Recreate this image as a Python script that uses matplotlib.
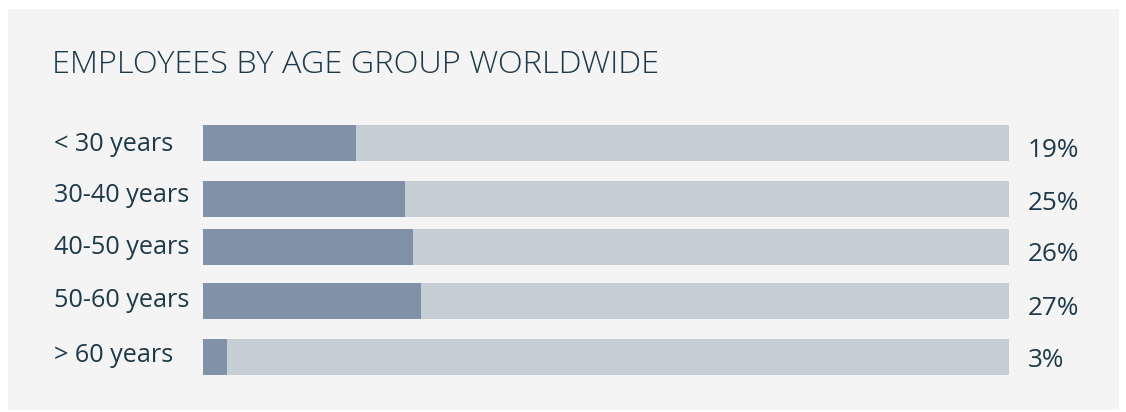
import matplotlib
matplotlib.use("Agg")
import matplotlib.pyplot as plt
from matplotlib.patches import Rectangle

categories = ["< 30 years", "30-40 years", "40-50 years", "50-60 years", "> 60 years"]
values = [19, 25, 26, 27, 3]
value_labels = ["19%", "25%", "26%", "27%", "3%"]
title = "EMPLOYEES BY AGE GROUP WORLDWIDE"

W, H = 1126, 412
bar_centers = [143, 199, 247, 301, 357]   # pixel layout
bar_h = 36
label_base = [151, 202, 254, 307, 362]
pct_base = [157, 210, 261, 315, 367]

FILL = "#8091a8"
TRACK = "#c5cdd5"
PANEL = "#f4f4f4"
TEXT = "#1e3a4a"

plt.rcParams['font.family'] = ['Open Sans', 'DejaVu Sans']

fig = plt.figure(figsize=(W / 100, H / 100), dpi=100)
fig.patch.set_facecolor("white")
fig.patches.append(Rectangle((8 / W, 1 - 410 / H), (1119 - 8) / W, (410 - 9) / H,
                             transform=fig.transFigure, facecolor=PANEL,
                             edgecolor="none", zorder=-5))

ax = fig.add_axes([203 / W, 0, 806 / W, 1])
ax.set_zorder(2)
ax.set_xlim(0, 100)
ax.set_ylim(H, 0)
ax.axis("off")
ax.patch.set_alpha(0)

ax.barh(bar_centers, [100] * len(values), height=bar_h, color=TRACK, linewidth=0)
ax.barh(bar_centers, values, height=bar_h, color=FILL, linewidth=0)

def fy(y):
    return 1 - y / H

fig.text(52 / W, fy(73), title, fontsize=23.4, color=TEXT, va="baseline", ha="left",
         fontweight="light")
for c, yb in zip(categories, label_base):
    fig.text(54 / W, fy(yb), c, fontsize=18.2, color=TEXT, va="baseline", ha="left")
for t, yb in zip(value_labels, pct_base):
    fig.text(1028 / W, fy(yb), t, fontsize=18.8, color=TEXT, va="baseline", ha="left")

fig.savefig("out.png", dpi=100, facecolor=fig.get_facecolor())
